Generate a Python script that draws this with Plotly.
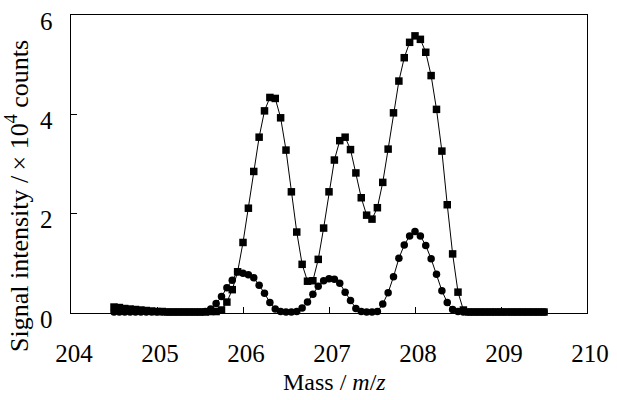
import plotly.graph_objects as go

mass = [204.5, 204.5625, 204.625, 204.6875, 204.75, 204.8125, 204.875, 204.9375,
        205.0, 205.0625, 205.125, 205.1875, 205.25, 205.3125, 205.375, 205.4375,
        205.5, 205.5625, 205.625, 205.6875, 205.75, 205.8125, 205.875, 205.9375,
        206.0, 206.0625, 206.125, 206.1875, 206.25, 206.3125, 206.375, 206.4375,
        206.5, 206.5625, 206.625, 206.6875, 206.75, 206.8125, 206.875, 206.9375,
        207.0, 207.0625, 207.125, 207.1875, 207.25, 207.3125, 207.375, 207.4375,
        207.5, 207.5625, 207.625, 207.6875, 207.75, 207.8125, 207.875, 207.9375,
        208.0, 208.0625, 208.125, 208.1875, 208.25, 208.3125, 208.375, 208.4375,
        208.5, 208.5625, 208.625, 208.6875, 208.75, 208.8125, 208.875, 208.9375,
        209.0, 209.0625, 209.125, 209.1875, 209.25, 209.3125, 209.375, 209.4375,
        209.5]

squares = [0.12, 0.11, 0.09, 0.08, 0.07, 0.06, 0.05, 0.04, 0.03, 0.03,
           0.02, 0.02, 0.02, 0.02, 0.02, 0.02, 0.02, 0.02, 0.03, 0.03,
           0.06, 0.22, 0.47, 0.83, 1.42, 2.11, 2.85, 3.54, 4.07, 4.34,
           4.32, 3.93, 3.28, 2.44, 1.63, 0.98, 0.64, 0.65, 1.08, 1.71,
           2.44, 3.08, 3.47, 3.54, 3.29, 2.82, 2.32, 1.97, 1.89, 2.12,
           2.63, 3.30, 4.03, 4.67, 5.14, 5.45, 5.58, 5.51, 5.25, 4.78,
           4.10, 3.26, 2.18, 1.19, 0.42, 0.06, 0.02, 0.02, 0.02, 0.02,
           0.02, 0.02, 0.02, 0.02, 0.02, 0.02, 0.02, 0.02, 0.02, 0.02,
           0.02]

circles = [0.02, 0.02, 0.02, 0.02, 0.02, 0.02, 0.02, 0.02, 0.02, 0.02,
           0.02, 0.02, 0.02, 0.02, 0.02, 0.02, 0.02, 0.03, 0.08, 0.19,
           0.33, 0.51, 0.66, 0.83, 0.80, 0.77, 0.71, 0.56, 0.40, 0.21,
           0.08, 0.03, 0.02, 0.02, 0.03, 0.10, 0.22, 0.38, 0.54, 0.65,
           0.69, 0.68, 0.60, 0.42, 0.25, 0.09, 0.03, 0.02, 0.02, 0.03,
           0.18, 0.41, 0.73, 1.10, 1.37, 1.55, 1.64, 1.55, 1.36, 1.09,
           0.78, 0.45, 0.21, 0.07, 0.03, 0.02, 0.02, 0.02, 0.02, 0.02,
           0.02, 0.02, 0.02, 0.02, 0.02, 0.02, 0.02, 0.02, 0.02, 0.02,
           0.02]

x_ticks = [204, 205, 206, 207, 208, 209, 210]
y_ticks = [0, 2, 4, 6]

FONT = "Liberation Serif"
L, R, T, B = 71, 28, 8, 87
W, H = 617, 400
PW, PH = W - L - R, H - T - B

fig = go.Figure()
fig.add_trace(go.Scatter(
    x=mass, y=squares, mode="lines+markers",
    line=dict(color="black", width=1),
    marker=dict(symbol="square", size=7.5, color="black"),
    showlegend=False, cliponaxis=False,
))
fig.add_trace(go.Scatter(
    x=mass, y=circles, mode="lines+markers",
    line=dict(color="black", width=1),
    marker=dict(symbol="circle", size=7.5, color="black"),
    showlegend=False, cliponaxis=False,
))

fig.update_layout(
    width=W, height=H,
    margin=dict(l=L, r=R, t=T, b=B),
    paper_bgcolor="white", plot_bgcolor="white",
    font=dict(family=FONT, size=25, color="black"),
    xaxis=dict(
        range=[204, 210], tickvals=x_ticks, ticktext=[str(v) for v in x_ticks],
        ticks="inside", ticklen=6, tickcolor="black", tickwidth=1,
        showline=True, linecolor="black", linewidth=1, mirror=True,
        showgrid=False, zeroline=False, ticklabelstandoff=18, ticklabelshift=3,
    ),
    yaxis=dict(
        range=[0, 6], tickvals=y_ticks,
        ticktext=[str(v) + "\u2002" for v in y_ticks],
        ticks="inside", ticklen=6, tickcolor="black", tickwidth=1,
        showline=True, linecolor="black", linewidth=1, mirror=True,
        showgrid=False, zeroline=False, ticklabelshift=6,
    ),
    annotations=[
        dict(text="Mass / <i>m</i>/<i>z</i>", xref="paper", yref="paper",
             x=(336 - L) / PW, y=-(384 - (H - B)) / PH,
             xanchor="center", yanchor="middle", showarrow=False,
             font=dict(family=FONT, size=24)),
        dict(text="Signal intensity /\u2009\u00d7 10<sup>4</sup> counts", xref="paper", yref="paper",
             x=-(L - 18) / PW, y=((H - B) - 193) / PH,
             xanchor="center", yanchor="middle", textangle=-90, showarrow=False,
             font=dict(family=FONT, size=26)),
    ],
)

fig.write_html("out.html", config={"displayModeBar": False},
               post_script="document.body.style.margin='0';")
